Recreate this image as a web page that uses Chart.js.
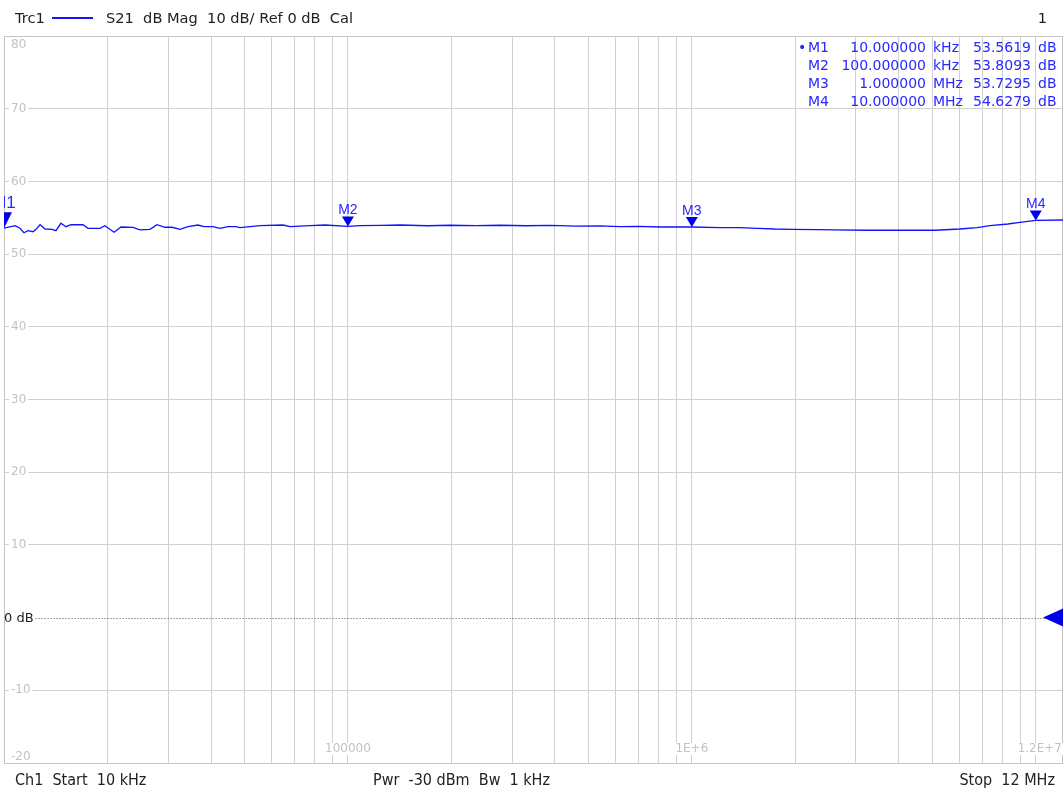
<!DOCTYPE html>
<html>
<head>
<meta charset="utf-8">
<script src="https://cdn.jsdelivr.net/npm/chart.js@4/dist/chart.umd.min.js"></script>
<style>
  html, body { margin: 0; padding: 0; background: #fff; }
  canvas { display: block; }
</style>
</head>
<body>
<canvas id="c" width="1063" height="791"></canvas>
<script>
// S21 magnitude trace, frequency in Hz and magnitude in dB
const freqs = [
  10000, 10770, 11130, 11430, 11740, 12140, 12390, 12730, 13160, 13790,
  14160, 14640, 15140, 15660, 16970, 17550, 19020, 19660, 20890, 21890,
  23720, 24860, 26580, 27850, 29390, 30800, 32500, 34280, 36650, 38150,
  40520, 42470, 44810, 47270, 48560, 55520, 64760, 67860, 77590, 85800,
  100000, 108400, 124800, 141800, 170000, 198200, 235000, 276900, 330000, 387000,
  460000, 540800, 618000, 700000, 808000, 1000000, 1208000, 1380000, 1550000, 1745000,
  1956000, 2300000, 2608000, 3211000, 4000000, 5096000, 6020000, 6750000, 7360000, 8300000,
  8990000, 10000000, 12000000
];
const magsDb = [
  53.56, 53.91, 53.55, 52.94, 53.22, 53.08, 53.41, 54.04, 53.45, 53.41,
  53.22, 54.24, 53.77, 54.04, 54.04, 53.55, 53.55, 53.91, 53.00, 53.73,
  53.69, 53.32, 53.41, 54.04, 53.69, 53.69, 53.41, 53.77, 54.00, 53.77,
  53.77, 53.55, 53.77, 53.77, 53.63, 53.91, 54.00, 53.77, 53.91, 54.00,
  53.81, 53.91, 53.95, 54.00, 53.90, 53.97, 53.92, 53.97, 53.90, 53.95,
  53.85, 53.87, 53.77, 53.80, 53.73, 53.73, 53.63, 53.63, 53.55, 53.45,
  53.41, 53.36, 53.32, 53.28, 53.28, 53.28, 53.45, 53.63, 53.91, 54.14,
  54.37, 54.63, 54.69
];

// Markers
const markerNames = ['M1', 'M2', 'M3', 'M4'];
const markerFreqs = [10000, 100000, 1000000, 10000000];
const markerFreqText = ['10.000000', '100.000000', '1.000000', '10.000000'];
const markerUnits = ['kHz', 'kHz', 'MHz', 'MHz'];
const markerValues = [53.5619, 53.8093, 53.7295, 54.6279];

// Axis ranges and tick labels
const freqStart = 10000, freqStop = 12000000;
const dbMin = -20, dbMax = 80, dbStep = 10;
const refLevel = 0;
const gridFreqs = [];
for (let e = 4; e <= 7; e++) for (let s = 1; s <= 9; s++) {
  const v = s * Math.pow(10, e);
  if (v > freqStart && v < freqStop) gridFreqs.push(v);
}
const xLabelValues = [100000, 1000000, 12000000];
const xLabelTexts = ['100000', '1E+6', '1.2E+7'];

const headerText = 'S21  dB Mag  10 dB/ Ref 0 dB  Cal';
const footerLeft = 'Ch1  Start  10 kHz';
const footerMid = 'Pwr  -30 dBm  Bw  1 kHz';
const footerRight = 'Stop  12 MHz';

const TRACE = 'rgb(18,18,255)';
const MARK = 'rgb(40,40,255)';
const GRID = '#d0d0d0';
const FONT = '"DejaVu Sans", Verdana, sans-serif';

const overlay = {
  id: 'vnaOverlay',
  beforeDatasetsDraw(chart) {
    const ctx = chart.ctx, a = chart.chartArea;
    const xs = chart.scales.x, ys = chart.scales.y;
    ctx.save();
    // frame
    ctx.strokeStyle = '#c4c4c4';
    ctx.lineWidth = 1;
    ctx.strokeRect(a.left + 0.5, a.top + 0.5, a.right - a.left - 1, a.bottom - a.top);

    // reference line
    const yr = Math.round(ys.getPixelForValue(refLevel)) + 0.5;
    ctx.font = '13px ' + FONT;
    ctx.textBaseline = 'middle';
    ctx.textAlign = 'left';
    const refW = ctx.measureText('0 dB').width;
    ctx.strokeStyle = '#555';
    ctx.setLineDash([1, 2]);
    ctx.beginPath();
    ctx.moveTo(a.left + refW + 2, yr);
    ctx.lineTo(a.right, yr);
    ctx.stroke();
    ctx.setLineDash([]);
    ctx.fillStyle = '#222';
    ctx.fillText('0 dB', a.left, yr);

    // y labels
    ctx.font = '12px ' + FONT;
    for (let v = dbMin; v <= dbMax; v += dbStep) {
      if (v === refLevel) continue;
      let y = ys.getPixelForValue(v);
      if (v === dbMax) y += 9;
      if (v === dbMin) y -= 6;
      const t = String(v);
      const w = ctx.measureText(t).width;
      ctx.fillStyle = '#fff';
      ctx.fillRect(a.left + 5, y - 6, w + 4, 12);
      ctx.fillStyle = '#c2c2c2';
      ctx.fillText(t, a.left + 7, y);
    }
    // x labels
    xLabelValues.forEach((v, i) => {
      const t = xLabelTexts[i];
      const w = ctx.measureText(t).width;
      let x = xs.getPixelForValue(v) - w / 2;
      if (x + w > a.right - 1) x = a.right - 1 - w;
      const y = a.bottom - 14;
      ctx.fillStyle = '#fff';
      ctx.fillRect(x - 1, y - 6, w + 2, 12);
      ctx.fillStyle = '#c2c2c2';
      ctx.fillText(t, x, y);
    });
    ctx.restore();
  },
  afterDatasetsDraw(chart) {
    const ctx = chart.ctx, a = chart.chartArea;
    const xs = chart.scales.x, ys = chart.scales.y;
    ctx.save();
    ctx.beginPath();
    ctx.rect(a.left, a.top, a.right - a.left, a.bottom - a.top);
    ctx.clip();
    // markers
    markerFreqs.forEach((f, i) => {
      const x = xs.getPixelForValue(f);
      const y = ys.getPixelForValue(markerValues[i]);
      const big = i === 0;
      const hw = big ? 8 : 6, h = big ? 15 : 9;
      ctx.fillStyle = 'rgb(0,0,235)';
      ctx.beginPath();
      ctx.moveTo(x - hw, y - h - 1);
      ctx.lineTo(x + hw, y - h - 1);
      ctx.lineTo(x, y);
      ctx.closePath();
      ctx.fill();
      ctx.fillStyle = MARK;
      ctx.font = (big ? '17px ' : '14px ') + '"Liberation Sans", Arial, sans-serif';
      ctx.textAlign = 'center';
      ctx.textBaseline = 'alphabetic';
      ctx.fillText(markerNames[i], x, y - h - (big ? 5 : 3));
    });
    // reference arrow
    const yr = ys.getPixelForValue(refLevel);
    ctx.fillStyle = 'rgb(0,0,235)';
    ctx.beginPath();
    ctx.moveTo(a.right, yr - 9);
    ctx.lineTo(a.right, yr + 9);
    ctx.lineTo(a.right - 20, yr);
    ctx.closePath();
    ctx.fill();
    ctx.restore();

    // marker table
    ctx.save();
    ctx.font = '14px ' + FONT;
    ctx.fillStyle = MARK;
    ctx.textBaseline = 'middle';
    markerNames.forEach((n, i) => {
      const y = a.top + 12 + i * 18;
      ctx.textAlign = 'left';
      if (i === 0) ctx.fillText('\u2022', 798, y);
      ctx.fillText(n, 808, y);
      ctx.textAlign = 'right';
      ctx.fillText(markerFreqText[i], 926, y);
      ctx.textAlign = 'left';
      ctx.fillText(markerUnits[i], 933, y);
      ctx.textAlign = 'right';
      ctx.fillText(markerValues[i].toFixed(4), 1031, y);
      ctx.textAlign = 'left';
      ctx.fillText('dB', 1038, y);
    });
    ctx.restore();

    // header
    ctx.save();
    ctx.font = '14.6px ' + FONT;
    ctx.fillStyle = '#222';
    ctx.textBaseline = 'middle';
    ctx.textAlign = 'left';
    ctx.fillText('Trc1', 15, 19);
    ctx.strokeStyle = TRACE;
    ctx.lineWidth = 2;
    ctx.beginPath();
    ctx.moveTo(52, 18);
    ctx.lineTo(93, 18);
    ctx.stroke();
    ctx.fillText(headerText, 106, 19);
    ctx.textAlign = 'right';
    ctx.fillText('1', 1047, 19);
    // footer
    ctx.font = '16px "DejaVu Sans Condensed", ' + FONT;
    ctx.textAlign = 'left';
    ctx.fillText(footerLeft, 15, 781);
    ctx.fillText(footerMid, 373, 781);
    ctx.textAlign = 'right';
    ctx.fillText(footerRight, 1055, 781);
    ctx.restore();
  }
};

new Chart(document.getElementById('c'), {
  type: 'line',
  data: {
    datasets: [{
      data: freqs.map((f, i) => ({ x: f, y: magsDb[i] })),
      borderColor: TRACE,
      borderWidth: 1.3,
      pointRadius: 0,
      tension: 0,
      fill: false
    }]
  },
  options: {
    responsive: false,
    animation: false,
    layout: { padding: { left: 4, top: 36, right: 0, bottom: 28 } },
    plugins: { legend: { display: false }, tooltip: { enabled: false } },
    scales: {
      x: {
        type: 'logarithmic',
        min: freqStart,
        max: freqStop,
        afterBuildTicks: s => { s.ticks = gridFreqs.map(v => ({ value: v })); },
        ticks: { display: false },
        grid: { color: GRID, drawTicks: false },
        border: { display: false }
      },
      y: {
        type: 'linear',
        min: dbMin,
        max: dbMax,
        ticks: { display: false, stepSize: dbStep },
        grid: {
          color: c => (c.tick && c.tick.value === refLevel) || c.tick.value === dbMin || c.tick.value === dbMax ? 'rgba(0,0,0,0)' : GRID,
          drawTicks: false
        },
        border: { display: false }
      }
    }
  },
  plugins: [overlay]
});
</script>
</body>
</html>
